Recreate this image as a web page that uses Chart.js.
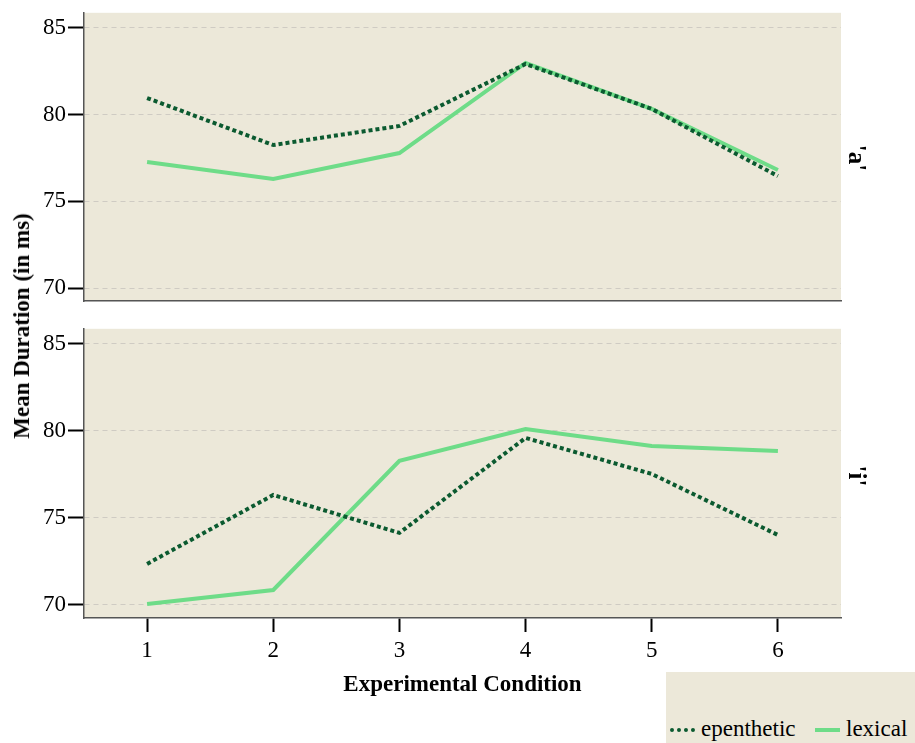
<!DOCTYPE html>
<html>
<head>
<meta charset="utf-8">
<script src="https://cdn.jsdelivr.net/npm/chart.js@4/dist/chart.umd.min.js"></script>
<style>
  body { margin: 0; background: #fff; font-family: "Liberation Serif", "DejaVu Serif", serif; }
  #wrap { position: relative; width: 915px; height: 743px; overflow: hidden; }
  canvas { position: absolute; left: 0; }
  #c1 { top: -3px; }
  #c2 { top: 313px; }
  .ytitle { position: absolute; left: 22px; top: 326px; transform: translate(-50%, -50%) rotate(-90deg);
    font-weight: bold; font-size: 23px; white-space: nowrap; }
  .strip { position: absolute; left: 857px; transform: translate(-50%, -50%) rotate(90deg);
    font-weight: bold; font-size: 25px; white-space: nowrap; }
  .legend { position: absolute; left: 666px; top: 672px; width: 249px; height: 71px; background: #ECE8D9; }
  .legend .item { position: absolute; top: 44px; font-size: 23px; line-height: 26px; }
  .legend .key { display: inline-block; width: 25px; height: 0; vertical-align: middle; margin-right: 6px; position: relative; top: -1px; }
</style>
</head>
<body>
<div id="wrap">
  <canvas id="c1" width="915" height="320"></canvas>
  <canvas id="c2" width="915" height="430"></canvas>
  <div class="ytitle">Mean Duration (in ms)</div>
  <div class="strip" style="top:158px">'a'</div>
  <div class="strip" style="top:476px">'i'</div>
  <div class="legend">
    <div class="item" style="left:4px"><span class="key" style="border-top:4px dotted #0B5A30"></span>epenthetic</div>
    <div class="item" style="left:149px"><span class="key" style="border-top:4px solid #6EDC88"></span>lexical</div>
  </div>
</div>
<script>
const conditions = ['1', '2', '3', '4', '5', '6'];
const yTicks = [70, 75, 80, 85];

// vowel 'a'
const aEpenthetic = [80.96, 78.25, 79.35, 82.92, 80.33, 76.46];
const aLexical = [77.27, 76.29, 77.79, 82.98, 80.33, 76.81];

// vowel 'i'
const iEpenthetic = [72.36, 76.32, 74.14, 79.60, 77.53, 74.02];
const iLexical = [70.06, 70.86, 78.28, 80.11, 79.14, 78.85];

const panelBg = '#ECE8D9';
const darkGreen = '#0B5A30';
const lightGreen = '#6EDC88';
const serif = '"Liberation Serif", "DejaVu Serif", serif';

Chart.defaults.font.family = serif;
Chart.defaults.color = '#000';

const panelFill = {
  id: 'panelFill',
  beforeDraw(chart) {
    const a = chart.chartArea;
    const ctx = chart.ctx;
    ctx.save();
    ctx.fillStyle = panelBg;
    ctx.fillRect(a.left, a.top, a.right - a.left, a.bottom - a.top);
    ctx.restore();
  }
};

function makeChart(id, epen, lex, showX) {
  const ctx = document.getElementById(id).getContext('2d');
  return new Chart(ctx, {
    type: 'line',
    data: {
      labels: conditions,
      datasets: [
        {
          label: 'epenthetic',
          data: epen,
          borderColor: darkGreen,
          borderWidth: 4,
          borderDash: [4, 3],
          pointRadius: 0,
          tension: 0
        },
        {
          label: 'lexical',
          data: lex,
          borderColor: lightGreen,
          borderWidth: 4,
          pointRadius: 0,
          tension: 0
        }
      ]
    },
    options: {
      responsive: false,
      animation: false,
      layout: { padding: { left: 0, right: 74, top: showX ? 10 : 12, bottom: showX ? 44 : 10 } },
      plugins: { legend: { display: false }, tooltip: { enabled: false } },
      scales: {
        x: {
          type: 'category',
          offset: true,
          grid: {
            display: showX,
            drawOnChartArea: false,
            offset: false,
            tickLength: 14,
            tickColor: '#000',
            tickWidth: 2
          },
          border: { display: true, color: '#555', width: 1.5 },
          ticks: { display: showX, font: { size: 23 }, padding: 5 },
          title: {
            display: showX,
            text: 'Experimental Condition',
            font: { size: 23, weight: 'bold' },
            padding: { top: 0, bottom: 0 }
          },
          afterFit(scale) {
            scale.height = showX ? 81 : 0;
          }
        },
        y: {
          min: 69.25,
          max: 85.87,
          afterBuildTicks(scale) {
            scale.ticks = yTicks.map(v => ({ value: v }));
          },
          afterFit(scale) { scale.width = 84; },
          grid: {
            color: '#CFCBC3',
            lineWidth: 1,
            tickLength: 16,
            tickColor: '#000',
            tickWidth: 2,
            tickBorderDash: []
          },
          border: { display: true, color: '#555', width: 1.5, dash: [5, 4] },
          ticks: { font: { size: 23 }, padding: 2 }
        }
      }
    },
    plugins: [panelFill]
  });
}

makeChart('c1', aEpenthetic, aLexical, false);
makeChart('c2', iEpenthetic, iLexical, true);
</script>
</body>
</html>
